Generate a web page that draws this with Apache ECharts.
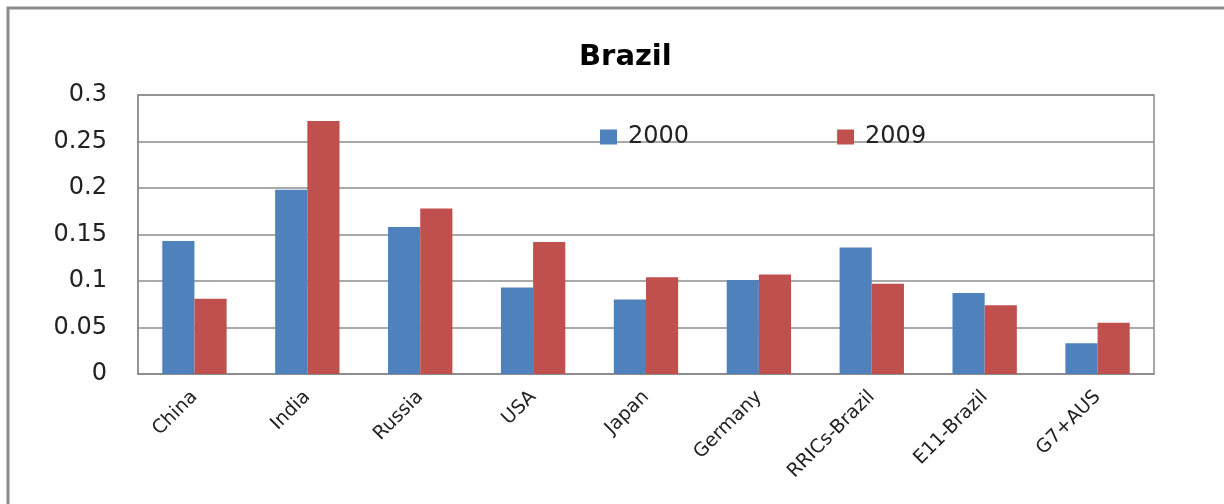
<!DOCTYPE html>
<html><head><meta charset="utf-8">
<script src="https://cdn.jsdelivr.net/npm/echarts@6/dist/echarts.min.js"></script>
<style>html,body{margin:0;padding:0;background:#fff}#c{width:1224px;height:504px}</style>
</head><body><div id="c"></div>
<script>
const categories = ["China","India","Russia","USA","Japan","Germany","RRICs-Brazil","E11-Brazil","G7+AUS"];
const values2000 = [0.143,0.198,0.158,0.093,0.080,0.101,0.136,0.087,0.033];
const values2009 = [0.081,0.272,0.178,0.142,0.104,0.107,0.097,0.074,0.055];
const yTicks = {min:0, max:0.3, interval:0.05};

const chart = echarts.init(document.getElementById('c'), null, {renderer:'canvas'});
chart.setOption({
  animation:false,
  backgroundColor:'#ffffff',
  graphic:[{type:'rect', shape:{x:8,y:8,width:1400,height:700}, style:{fill:'none',stroke:'#8c8c8c',lineWidth:3}, z:-1}],
  title:{text:'Brazil', left:574, top:38, textStyle:{fontFamily:'DejaVu Sans',fontWeight:'bold',fontSize:29,color:'#000'}},
  legend:{left:595, top:120, itemWidth:17, itemHeight:15, itemGap:148, icon:'rect',
    textStyle:{fontFamily:'DejaVu Sans',fontSize:24,color:'#222',padding:[0,0,0,6]},
    data:['2000','2009']},
  grid:{left:138, right:70, top:95, bottom:130, show:true, borderColor:'#8c8c8c', borderWidth:1.5},
  xAxis:{type:'category', data:categories,
    axisLine:{lineStyle:{color:'#8c8c8c',width:1.5}}, axisTick:{show:false},
    axisLabel:{rotate:45, margin:20, fontFamily:'DejaVu Sans', fontSize:19, color:'#222', interval:0}},
  yAxis:{type:'value', min:yTicks.min, max:yTicks.max, interval:yTicks.interval,
    axisLine:{show:true,lineStyle:{color:'#8c8c8c',width:1.5}}, axisTick:{show:false},
    splitLine:{lineStyle:{color:'#8c8c8c',width:1.5}},
    axisLabel:{margin:31, fontFamily:'DejaVu Sans', fontSize:24, color:'#222'}},
  series:[
    {name:'2000', type:'bar', data:values2000, itemStyle:{color:'#4F81BD'}, barGap:'0%', barCategoryGap:'43%'},
    {name:'2009', type:'bar', data:values2009, itemStyle:{color:'#C0504D'}, barGap:'0%', barCategoryGap:'43%'}
  ]
});
</script></body></html>
